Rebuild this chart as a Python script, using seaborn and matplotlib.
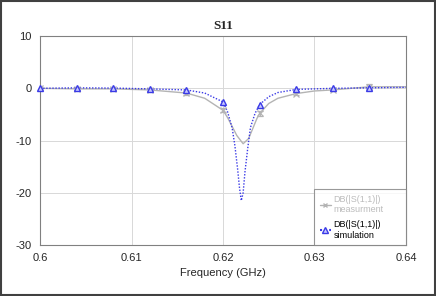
import numpy as np
import pandas as pd
import matplotlib
matplotlib.use('Agg')
import matplotlib.pyplot as plt
import seaborn as sns
from matplotlib.lines import Line2D
from matplotlib.patches import Rectangle

# S11 curves (GHz, dB)
meas_freq = [0.600, 0.604, 0.608, 0.612, 0.616, 0.618, 0.620, 0.6205, 0.621,
             0.6215, 0.6222, 0.6228, 0.6233, 0.6237, 0.624, 0.625, 0.626,
             0.628, 0.630, 0.632, 0.636, 0.640]
meas_db = [0.0, -0.1, -0.1, -0.3, -0.9, -1.9, -4.2, -5.6, -7.3,
           -9.0, -10.6, -9.6, -7.5, -5.8, -4.8, -2.9, -1.9,
           -1.0, -0.5, -0.3, 0.3, 0.3]

sim_freq = [0.600, 0.604, 0.608, 0.612, 0.616, 0.618, 0.620, 0.6205, 0.621,
            0.6213, 0.6216, 0.6218, 0.6220, 0.6222, 0.6224, 0.6227, 0.623,
            0.6235, 0.624, 0.625, 0.626, 0.628, 0.632, 0.636, 0.640]
sim_db = [0.0, 0.1, 0.05, -0.1, -0.3, -0.9, -2.6, -4.5, -7.6,
          -11.0, -15.5, -19.0, -21.5, -20.0, -16.0, -11.5, -7.5,
          -4.8, -3.1, -1.6, -0.8, -0.2, 0.0, 0.1, 0.2]

mark_freq = [0.600, 0.604, 0.608, 0.612, 0.616, 0.620, 0.624, 0.628, 0.632, 0.636]
meas_err = [0.2, 0.2, 0.2, 0.2, 0.3, 0.4, 0.4, 0.3, 0.2, 0.5]

x_ticks = [0.6, 0.61, 0.62, 0.63, 0.64]
x_labels = ['0.6', '0.61', '0.62', '0.63', '0.64']
y_ticks = [-30, -20, -10, 0, 10]

meas = pd.DataFrame({'f': meas_freq, 'db': meas_db})
sim = pd.DataFrame({'f': sim_freq, 'db': sim_db})

sns.set_style('white')
plt.rcParams['font.family'] = ['Liberation Sans', 'DejaVu Sans']
plt.rcParams['axes.unicode_minus'] = False

GRAY = '#b4b4b4'
BLUE = '#3a3ae6'

fig = plt.figure(figsize=(4.36, 2.96), dpi=100)
ax = fig.add_axes([0.092, 0.172, 0.839, 0.706])

sns.lineplot(data=meas, x='f', y='db', ax=ax, color=GRAY, lw=1.0, sort=False)
sns.lineplot(data=sim, x='f', y='db', ax=ax, color=BLUE, lw=1.0,
             linestyle=(0, (1, 1.2)), sort=False)

# markers at the sample points (values picked from the curves)
m_meas = [meas_db[meas_freq.index(f)] for f in mark_freq]
m_sim = [sim_db[sim_freq.index(f)] for f in mark_freq]
ax.errorbar(mark_freq, m_meas, yerr=meas_err, fmt='x', color=GRAY,
            ms=4, mew=0.9, capsize=2.5, elinewidth=0.8, zorder=3)
ax.plot(mark_freq, m_sim, ls='none', marker='^', ms=4.5, mfc='#c8c8ff',
        mec=BLUE, mew=1.0, zorder=4, clip_on=False)

ax.set_xlim(0.6, 0.64)
ax.set_ylim(-30, 10)
ax.set_xticks(x_ticks)
ax.set_xticklabels(x_labels)
ax.set_yticks(y_ticks)
ax.tick_params(labelsize=8, length=0, pad=6)
ax.grid(True, color='#d8d8d8', lw=0.7)
for s in ax.spines.values():
    s.set_color('#808080')
    s.set_linewidth(0.8)
ax.set_xlabel('Frequency (GHz)', fontsize=8, labelpad=3)
ax.set_ylabel('')
ax.set_title('S11', fontsize=9.5, fontweight='bold', family='Liberation Serif', pad=5)

handles = [
    Line2D([], [], color=GRAY, marker='x', ms=3.5, lw=1.0),
    Line2D([], [], color=BLUE, ls=(0, (1, 1.2)), marker='^', ms=4, mfc='#c8c8ff', mec=BLUE),
]
leg = ax.legend(handles, ['DB(|S(1,1)|)\nmeasurment', 'DB(|S(1,1)|)\nsimulation'],
                loc='lower right', bbox_to_anchor=(0.75, 0.0, 0.25, 0.3), mode='expand',
                fontsize=6.5, frameon=True, fancybox=False,
                borderaxespad=0, handlelength=1.2, handletextpad=0.3,
                borderpad=0.6, labelspacing=0.7, edgecolor='#808080')
leg.get_frame().set_linewidth(0.8)
leg.get_texts()[0].set_color('#bcbcbc')
leg.get_texts()[1].set_color('black')

fig.patches.append(Rectangle((0.002, 0.003), 0.996, 0.994, transform=fig.transFigure,
                             fill=False, edgecolor='#404040', lw=1.5))

fig.savefig('out.png', dpi=100)
